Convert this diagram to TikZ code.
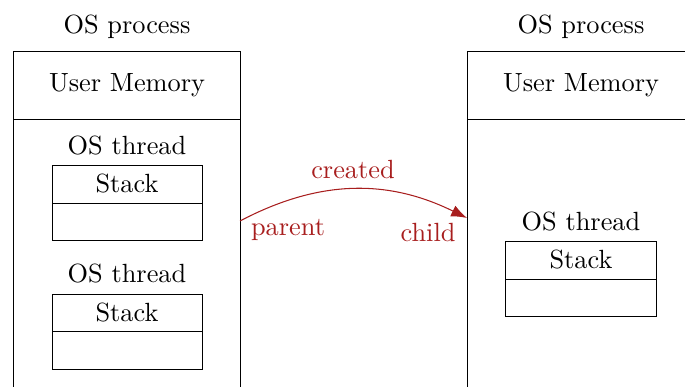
\documentclass[tikz,border=0pt]{standalone}
\usetikzlibrary{fit,arrows.meta}
\definecolor{arrred}{RGB}{168,30,30}
\begin{document}
\begin{tikzpicture}[x=0.38pt,y=-0.38pt,
  box/.style={draw,inner sep=0pt,line width=0.35pt},
  lbl/.style={inner sep=0pt,anchor=center},
  rlbl/.style={inner sep=0pt,anchor=center,text=arrred},
  link/.style={draw=arrred,line width=0.4pt,-{Latex[length=6pt,width=4.5pt]}}]
\useasboundingbox (0,0) rectangle (685,387);
\clip (0,0) rectangle (685,387);
% left process
\node[lbl] (t1) at (127,27) {OS process};
\coordinate (a1) at (13,51); \coordinate (b1) at (240,400);
\node[box,fit=(a1)(b1)] (p1) {};
\coordinate (m1) at (13,119); \coordinate (m1r) at (240,119);
\draw[line width=0.35pt] (m1) -- (m1r);
\node[lbl] (u1) at (127,85) {User Memory};
\node[lbl] (th1) at (127,146) {OS thread};
\coordinate (s1a) at (52,165); \coordinate (s1b) at (202,240);
\node[box,fit=(s1a)(s1b)] (st1) {};
\coordinate (d1a) at (52,203); \coordinate (d1b) at (202,203);
\draw[line width=0.35pt] (d1a) -- (d1b);
\node[lbl] (sk1) at (127,184) {Stack};
\node[lbl] (th2) at (127,274) {OS thread};
\coordinate (s2a) at (52,294); \coordinate (s2b) at (202,369);
\node[box,fit=(s2a)(s2b)] (st2) {};
\coordinate (d2a) at (52,331); \coordinate (d2b) at (202,331);
\draw[line width=0.35pt] (d2a) -- (d2b);
\node[lbl] (sk2) at (127,313) {Stack};
% right process
\node[lbl] (t2) at (581,27) {OS process};
\coordinate (a2) at (467,51); \coordinate (b2) at (694,400);
\node[box,fit=(a2)(b2)] (p2) {};
\coordinate (m2) at (467,119); \coordinate (m2r) at (694,119);
\draw[line width=0.35pt] (m2) -- (m2r);
\node[lbl] (u2) at (581,85) {User Memory};
\node[lbl] (th3) at (581,222) {OS thread};
\coordinate (s3a) at (505,241); \coordinate (s3b) at (656,316);
\node[box,fit=(s3a)(s3b)] (st3) {};
\coordinate (d3a) at (505,279); \coordinate (d3b) at (656,279);
\draw[line width=0.35pt] (d3a) -- (d3b);
\node[lbl] (sk3) at (581,260) {Stack};
% arrow
\coordinate (from) at (240,221);
\coordinate (to) at (467,218);
\draw[link] (from) to[bend left=27] (to);
\node[rlbl] (cr) at (353,170) {created};
\node[rlbl] (pa) at (288,230) {parent};
\node[rlbl] (ch) at (428,233) {child};
\end{tikzpicture}
\end{document}
